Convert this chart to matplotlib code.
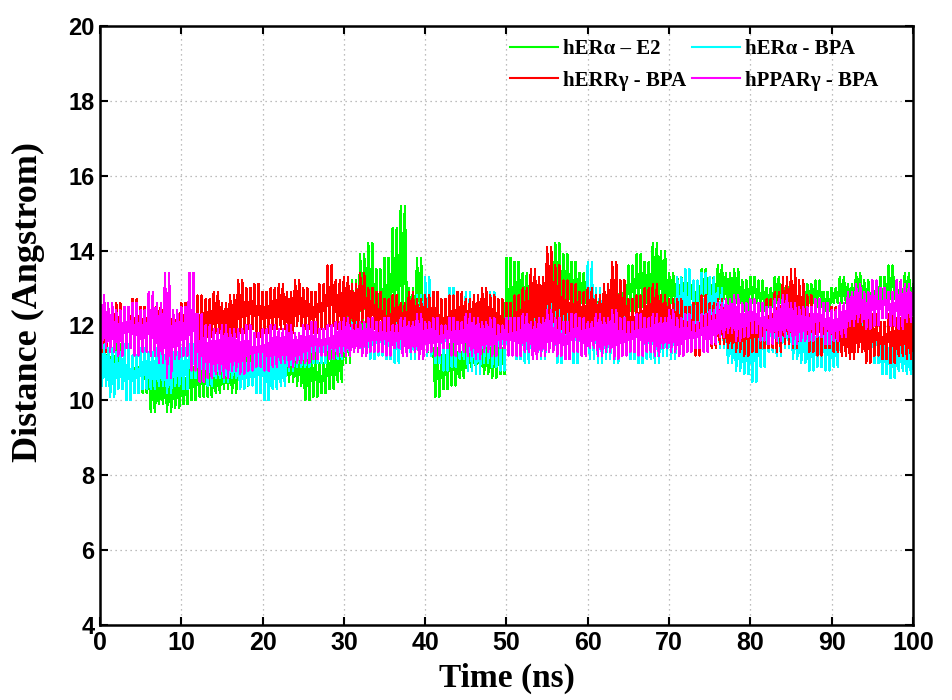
import numpy as np
import matplotlib
matplotlib.use('Agg')
import matplotlib.pyplot as plt

# time axis, 1 ns steps
time_ns = np.arange(0, 101)

# upper / lower edge of each noisy trace (Angstrom)
g_hi = [11.6, 11.4, 11.5, 11.3, 11.2, 11.3,
        10.8, 10.6, 10.9, 10.7, 10.6, 10.9, 11.0,
        11.1, 10.9, 11.2, 11.3,
        11.4, 11.6, 11.3, 11.5, 11.7,
        11.8, 11.6, 11.5,
        11.2, 11.3, 11.0, 11.4, 11.5,
        12.4, 13.2, 13.9, 14.2, 13.5, 13.8, 14.6, 15.2, 13.0, 13.8, 12.6,
        11.4, 11.2, 11.5, 11.3, 11.6,
        11.8, 11.6, 11.5, 11.4,
        13.8, 13.7, 13.4, 13.2, 13.0, 13.6, 14.2, 13.9, 13.7, 13.4, 13.2,
        12.8, 12.6, 12.7, 13.2, 13.6, 13.9, 13.7, 14.2, 14.0, 13.4,
        13.3, 13.4, 13.2, 13.5, 13.3, 13.6, 13.4, 13.5, 13.2, 13.3,
        13.2, 13.0, 13.3, 13.1, 13.0, 12.9, 13.1, 13.2, 12.9, 13.0,
        13.3, 13.1, 13.4, 13.2, 13.1, 13.3, 13.6, 13.2, 13.4, 13.1]
g_lo = [10.5, 10.4, 10.6, 10.3, 10.4, 10.2,
        9.7, 9.9, 9.7, 9.8, 9.9, 10.0, 10.1,
        10.1, 10.2, 10.3, 10.2,
        10.3, 10.4, 10.2, 10.5, 10.6,
        10.7, 10.5, 10.4,
        10.0, 10.1, 10.2, 10.3, 10.5,
        11.0, 11.4, 11.9, 12.0, 11.8, 12.0, 12.2, 12.4, 11.8, 11.9, 11.2,
        10.1, 10.3, 10.4, 10.6, 10.8,
        10.8, 10.7, 10.6, 10.7,
        11.8, 12.2, 12.1, 12.3, 12.2, 12.4, 12.6, 12.7, 12.5, 12.6, 12.4,
        12.0, 11.9, 12.0, 12.2, 12.4, 12.5, 12.6, 12.7, 12.5, 12.6,
        12.6, 12.7, 12.5, 12.8, 12.6, 12.7, 12.5, 12.6, 12.4, 12.6,
        12.4, 12.5, 12.6, 12.7, 12.5, 12.4, 12.6, 12.5, 12.4, 12.6,
        12.6, 12.5, 12.7, 12.4, 12.6, 12.5, 12.7, 12.4, 12.5, 12.6]

c_hi = [11.6, 11.4, 11.3, 11.5, 11.2, 11.4,
        11.3, 11.4, 11.2, 11.3, 11.4,
        11.5, 11.4, 11.5, 11.3, 11.4, 11.3,
        11.2, 11.0, 11.3, 11.4, 11.2, 11.3,
        11.6, 11.7, 11.6, 11.8, 11.7, 11.9, 11.8,
        12.0, 12.1, 12.0, 12.2, 12.1, 12.0, 12.2,
        12.3, 12.6, 12.8, 13.3,
        12.9, 12.7, 13.0, 12.8, 12.9, 12.6, 12.8, 12.9, 12.7,
        12.4, 12.5, 12.3, 12.6, 12.5, 12.8, 12.6, 12.5, 12.6, 12.7,
        13.7, 13.0,
        12.6, 12.7, 12.5, 12.6, 12.8,
        12.5, 12.6, 12.4, 12.7,
        13.3, 13.5, 13.2, 13.4, 13.3, 13.0,
        12.2, 12.0, 11.8, 11.9, 12.1,
        12.6, 12.5, 12.7, 12.4, 12.0,
        11.8, 11.7, 11.9, 11.8,
        12.5, 12.6, 12.4, 12.5, 12.3,
        11.5, 11.4, 11.6, 11.5, 11.4]
c_lo = [10.4, 10.1, 10.3, 10.0, 10.2, 10.3,
        10.3, 10.4, 10.2, 10.4, 10.3,
        10.6, 10.5, 10.4, 10.6, 10.5, 10.6,
        10.3, 10.4, 10.2, 10.0, 10.3, 10.4,
        10.8, 10.9, 10.9, 11.0, 11.0, 11.1, 11.1,
        11.2, 11.3, 11.2, 11.1, 11.2, 11.1, 11.0,
        11.2, 11.1, 11.3, 11.2,
        11.0, 10.8, 10.9, 11.1, 10.8, 10.7, 11.0, 10.9, 10.8,
        11.2, 11.1, 11.0, 11.2, 11.1, 11.3, 11.0, 11.1, 11.0, 11.2,
        11.1, 11.0,
        11.1, 11.0, 11.2, 11.1, 11.0,
        11.1, 11.0, 11.2, 11.1,
        11.5, 11.4, 11.6, 11.5, 11.6, 11.4,
        11.0, 10.8, 10.7, 10.5, 10.9,
        11.3, 11.2, 11.4, 11.1, 11.0,
        10.8, 10.9, 10.8, 10.9,
        11.3, 11.2, 11.4, 11.1, 11.0,
        10.7, 10.6, 10.8, 10.7, 10.8]

r_hi = [12.7, 12.5, 12.6, 12.4, 12.7, 12.5,
        12.4, 12.6, 12.5, 12.3, 12.6,
        12.6, 12.8, 12.7, 12.9, 12.6, 12.8,
        13.2, 13.0, 13.1, 12.9, 13.0,
        13.1, 12.9, 13.2, 13.0, 12.9,
        13.1, 13.6, 13.2,
        13.3, 13.1, 13.4, 13.0,
        12.9, 12.7, 12.8, 12.6, 12.9, 12.7, 12.8,
        12.9, 12.7, 12.8, 12.9, 12.7, 12.8, 13.0, 12.8, 12.7,
        12.6, 12.8, 13.0,
        13.5, 13.3, 14.1, 13.6, 13.2,
        13.1, 12.9, 13.0, 12.8, 13.1,
        13.7, 13.2,
        12.7, 12.8, 13.0, 13.1, 12.8, 12.7,
        12.7, 12.5, 12.6, 12.8, 12.6, 12.7,
        12.3, 12.4, 12.5, 12.3, 12.2,
        12.7, 12.9, 13.3, 13.5, 13.2,
        12.8, 12.7, 12.6, 12.5,
        12.3, 12.2, 12.4, 12.2, 12.3, 12.1, 12.3, 12.2, 12.4, 12.2]
r_lo = [11.3, 11.5, 11.4, 11.6, 11.5, 11.6,
        11.7, 11.6, 11.8, 11.7, 11.6,
        11.6, 11.5, 11.7, 11.8, 11.6, 11.7,
        11.8, 11.9, 11.7, 11.8, 11.9,
        11.9, 11.8, 12.0, 11.9, 11.8,
        11.9, 12.0, 11.9,
        12.0, 11.9, 12.1, 11.9,
        11.7, 11.6, 11.8, 11.6, 11.7, 11.6, 11.5,
        11.6, 11.5, 11.7, 11.6, 11.5, 11.6, 11.7, 11.6, 11.5,
        11.5, 11.6, 11.7,
        11.9, 12.0, 12.1, 11.9, 11.8,
        11.8, 11.7, 11.8, 11.6, 11.7,
        11.9, 11.8,
        11.5, 11.6, 11.5, 11.7, 11.6, 11.4,
        11.3, 11.4, 11.2, 11.3, 11.4, 11.5,
        11.4, 11.3, 11.2, 11.3, 11.4,
        11.4, 11.3, 11.5, 11.4, 11.6,
        11.3, 11.2, 11.4, 11.3,
        11.2, 11.1, 11.3, 11.0, 11.2, 11.1, 11.0, 11.2, 11.1, 11.0]

m_hi = [12.8, 12.6, 12.4, 12.5, 12.6, 12.4,
        12.9, 12.6, 13.4, 12.4, 12.5, 13.4, 12.3, 12.0, 11.9, 12.0, 11.9,
        11.9, 12.0, 11.8, 11.9, 12.0, 11.9, 12.0, 11.8,
        12.0, 12.1, 11.9, 12.0, 12.1, 12.2, 12.0, 12.1, 12.2,
        12.1, 12.2, 12.0, 12.2, 12.1, 12.3, 12.1, 12.2, 12.0, 12.2, 12.1,
        12.3, 12.2, 12.1, 12.2, 12.0, 12.2,
        12.2, 12.3, 12.1, 12.2, 12.4, 12.2, 12.1, 12.3, 12.2, 12.1, 12.3,
        12.2, 12.4, 12.2, 12.1, 12.3,
        12.2, 12.3, 12.2, 12.4, 12.2, 12.3, 12.1, 12.3, 12.4,
        12.6, 12.7, 12.8, 12.6, 12.7,
        12.6, 12.5, 12.7, 12.8, 12.6, 12.5,
        12.5, 12.7, 12.6, 12.4, 12.6,
        12.9, 13.1, 12.9, 13.2, 13.0, 12.9, 13.2, 13.1, 13.0]
m_lo = [11.4, 11.3, 11.2, 11.4, 11.2, 11.3,
        11.2, 11.0, 10.6, 11.1, 11.2, 10.8, 10.5, 10.6, 10.7, 10.6, 10.8,
        10.7, 10.8, 10.9, 10.8, 10.9, 11.0, 10.9, 11.0,
        11.0, 11.1, 11.2, 11.1, 11.2, 11.2, 11.3, 11.2, 11.3,
        11.3, 11.2, 11.4, 11.2, 11.3, 11.1, 11.3, 11.2, 11.4, 11.2, 11.3,
        11.2, 11.1, 11.3, 11.2, 11.4, 11.2,
        11.2, 11.3, 11.1, 11.2, 11.3, 11.2, 11.1, 11.3, 11.2, 11.4, 11.2,
        11.3, 11.1, 11.2, 11.3, 11.2,
        11.3, 11.2, 11.4, 11.3, 11.2, 11.3, 11.4, 11.3, 11.5,
        11.7, 11.8, 11.6, 11.7, 11.8,
        11.6, 11.5, 11.6, 11.7, 11.5, 11.6,
        11.6, 11.7, 11.5, 11.6, 11.7,
        12.0, 12.1, 11.9, 12.0, 12.2, 12.0, 11.9, 12.1, 12.0]

labels = ['hER\u03b1 \u2013 E2', 'hER\u03b1 - BPA', 'hERR\u03b3 - BPA', 'hPPAR\u03b3 - BPA']
colors = ['#00ff00', '#00ffff', '#ff0000', '#ff00ff']
series = [(g_hi, g_lo), (c_hi, c_lo), (r_hi, r_lo), (m_hi, m_lo)]


def zigzag(t, hi, lo, sub=4):
    # swing between upper and lower edge several times per ns -> dense noisy band
    hi = np.asarray(hi)
    lo = np.asarray(lo)
    n = len(t)
    x = (np.repeat(t, sub) + np.tile(np.arange(sub) / sub, n)).astype(float)
    y = np.empty(n * sub)
    for k in range(sub):
        y[k::sub] = hi if k % 2 == 0 else lo
    return x, y


fig = plt.figure(figsize=(9.53, 7.0), dpi=100)
ax = fig.add_axes([0.1049, 0.1071, 0.8531, 0.8558])

lines = {}
for (hi, lo), col, lab in zip(series, colors, labels):
    x, y = zigzag(time_ns, hi, lo)
    ln, = ax.plot(x, y, color=col, linewidth=1.0, antialiased=False, label=lab)
    lines[lab] = ln

ax.set_xlim(0, 100)
ax.set_ylim(4, 20)
ax.set_xticks(np.arange(0, 101, 10))
ax.set_yticks(np.arange(4, 21, 2))
ax.grid(True, color='#a8a8a8', linestyle=(0, (1, 3)), linewidth=0.9)

for s in ax.spines.values():
    s.set_linewidth(1.8)
ax.tick_params(direction='in', length=6, width=1.5, top=True, right=True)

for lab in ax.get_xticklabels():
    lab.set_fontfamily('Liberation Sans')
    lab.set_fontweight('bold')
    lab.set_fontsize(18)
for lab in ax.get_yticklabels():
    lab.set_fontfamily('Liberation Sans')
    lab.set_fontweight('bold')
    lab.set_fontsize(17)
ax.tick_params(axis='x', pad=4)
ax.tick_params(axis='y', pad=4)

ax.set_xlabel('Time (ns)', fontfamily='Liberation Serif', fontweight='bold',
              fontsize=24, labelpad=6)
ax.set_ylabel('Distance (Angstrom)', fontfamily='Liberation Serif', fontweight='bold',
              fontsize=26)
ax.yaxis.set_label_coords(-0.068, 0.539)

# legend in column order so rows read green/cyan then red/magenta
order = [labels[0], labels[2], labels[1], labels[3]]
leg = ax.legend([lines[k] for k in order], order, ncol=2, loc='upper left',
                bbox_to_anchor=(0.504, 0.978), frameon=False, borderaxespad=0,
                borderpad=0, handlelength=2.3, handletextpad=0.25, columnspacing=0.3,
                labelspacing=0.55,
                prop={'family': 'Liberation Serif', 'weight': 'bold', 'size': 15})
for h in leg.get_lines():
    h.set_linewidth(1.5)
    h.set_antialiased(True)

fig.savefig('out.png', dpi=100)
